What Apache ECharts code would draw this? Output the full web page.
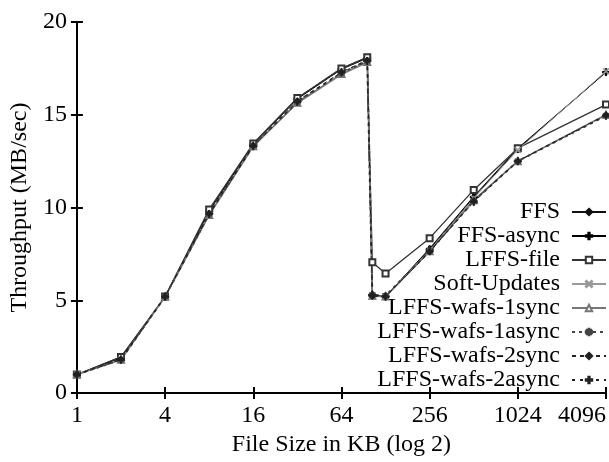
<!DOCTYPE html>
<html>
<head>
<meta charset="utf-8">
<script src="https://cdn.jsdelivr.net/npm/echarts@6/dist/echarts.min.js"></script>
<style>
  html, body { margin: 0; padding: 0; background: #fff; }
  #chart { width: 609px; height: 462px; }
</style>
</head>
<body>
<div id="chart"></div>
<script>
// file sizes in KB
const fileSizes = [1, 2, 4, 8, 16, 32, 64, 96, 104, 128, 256, 512, 1024, 4096];
const xTicks = [1, 4, 16, 64, 256, 1024, 4096];

// throughput (MB/sec)
const ffs        = [1.0, 1.95, 5.2, 9.85, 13.45, 15.9, 17.5, 18.1, 5.3, 5.2, 7.8, 10.6, 13.2, 17.3];
const ffsAsync   = [1.0, 1.9, 5.2, 9.8, 13.4, 15.85, 17.45, 18.05, 5.25, 5.2, 7.75, 10.55, 13.15, 17.3];
const lffsFile   = [1.0, 1.95, 5.2, 9.9, 13.45, 15.9, 17.5, 18.1, 7.05, 6.45, 8.35, 10.95, 13.2, 15.55];
const softUpd    = [1.0, 1.8, 5.15, 9.6, 13.3, 15.6, 17.15, 17.8, 5.2, 5.2, 7.7, 10.5, 13.1, 17.35];
const wafs1sync  = [1.0, 1.8, 5.2, 9.6, 13.3, 15.65, 17.2, 17.85, 5.25, 5.2, 7.65, 10.4, 12.5, 15.0];
const wafs1async = [1.0, 1.8, 5.2, 9.65, 13.35, 15.7, 17.25, 17.9, 5.3, 5.25, 7.65, 10.35, 12.5, 14.95];
const wafs2sync  = [1.0, 1.85, 5.2, 9.7, 13.35, 15.75, 17.3, 17.95, 5.2, 5.2, 7.6, 10.35, 12.5, 15.0];
const wafs2async = [1.0, 1.8, 5.2, 9.65, 13.3, 15.7, 17.3, 17.9, 5.3, 5.2, 7.65, 10.3, 12.5, 14.95];

const seriesNames = ['FFS', 'FFS-async', 'LFFS-file', 'Soft-Updates',
  'LFFS-wafs-1sync', 'LFFS-wafs-1async', 'LFFS-wafs-2sync', 'LFFS-wafs-2async'];
const seriesValues = [ffs, ffsAsync, lffsFile, softUpd, wafs1sync, wafs1async, wafs2sync, wafs2async];

const PLUS = 'path://M4 0h2v4h4v2h-4v4h-2v-4h-4v-2h4z';
const CROSS = 'path://M1 0L5 4L9 0L10 1L6 5L10 9L9 10L5 6L1 10L0 9L4 5L0 1z';
const STAR = 'path://M4.3 0h1.4v3.3L8.5 1.5L9.3 2.7L6.5 4.3h3.5v1.4H6.5L9.3 7.3L8.5 8.5L5.7 6.7V10H4.3V6.7L1.5 8.5L0.7 7.3L3.5 5.7H0V4.3h3.5L0.7 2.7L1.5 1.5L4.3 3.3z';

// style per series
const styles = [
  { color: '#111', width: 1, type: 'solid', symbol: 'diamond', size: 6 },
  { color: '#000', width: 1, type: 'solid', symbol: PLUS, size: 7 },
  { color: '#333', width: 1.3, type: 'solid', symbol: 'emptyRect', size: 6 },
  { color: '#999', width: 1, type: 'solid', symbol: CROSS, size: 6 },
  { color: '#777', width: 1.6, type: 'solid', symbol: 'emptyTriangle', size: 6 },
  { color: '#444', width: 2, type: [3, 4], symbol: STAR, size: 7 },
  { color: '#222', width: 1, type: [4, 4], symbol: 'diamond', size: 6 },
  { color: '#222', width: 1, type: [3, 5], symbol: PLUS, size: 7 }
];

const font = '"Liberation Serif", "Times New Roman", serif';
const fs = 24;
const dom = document.getElementById('chart');
const myChart = echarts.init(dom);

let seriesArr = [];
seriesNames.forEach((name, i) => {
  const st = styles[i];
  seriesArr.push({
    name: name,
    type: 'line',
    data: fileSizes.map((s, j) => [Math.log2(s), seriesValues[i][j]]),
    symbol: st.symbol,
    symbolSize: st.size,
    showAllSymbol: true,
    itemStyle: { color: st.color, borderColor: st.color, borderWidth: 1 },
    lineStyle: { color: st.color, width: st.width, type: st.type },
    emphasis: { disabled: true },
    animation: false
  });
});

const axisCommon = {
  axisLine: { show: true, lineStyle: { color: '#000', width: 2 } },
  axisTick: { show: true, inside: true, length: 6, lineStyle: { color: '#000', width: 2 } },
  splitLine: { show: false }
};

const option = {
  backgroundColor: '#fff',
  animation: false,
  grid: { left: 73, right: 2, top: 22, bottom: 59, containLabel: false },
  legend: {
    orient: 'vertical',
    right: 2,
    top: 200,
    align: 'right',
    itemWidth: 34,
    itemHeight: 8,
    itemGap: 0,
    padding: 0,
    textStyle: { fontFamily: font, fontSize: fs, color: '#000', padding: [0, 7, 0, 0], lineHeight: 24 },
    data: seriesNames
  },
  xAxis: [
    Object.assign({
      type: 'value', position: 'bottom', min: 0, max: 12, interval: 2,
      name: 'File Size in KB (log 2)', nameLocation: 'middle', nameGap: 32,
      nameTextStyle: { fontFamily: font, fontSize: fs, color: '#000' },
      axisLabel: {
        fontFamily: font, fontSize: fs, color: '#000', margin: 11,
        alignMaxLabel: 'right',
        formatter: v => String(Math.pow(2, v))
      }
    }, axisCommon),
    Object.assign({
      type: 'value', position: 'top', min: 0, max: 12, interval: 2,
      axisLabel: { show: false }
    }, axisCommon)
  ],
  yAxis: [
    Object.assign({
      type: 'value', position: 'left', min: 0, max: 20, interval: 5,
      name: 'Throughput (MB/sec)', nameLocation: 'middle', nameGap: 44,
      nameTextStyle: { fontFamily: font, fontSize: fs, color: '#000' },
      axisLabel: { fontFamily: font, fontSize: fs, color: '#000', margin: 10 }
    }, axisCommon),
    Object.assign({
      type: 'value', position: 'right', min: 0, max: 20, interval: 5,
      axisLabel: { show: false }
    }, axisCommon)
  ],
  series: seriesArr
};

myChart.setOption(option);
</script>
</body>
</html>
